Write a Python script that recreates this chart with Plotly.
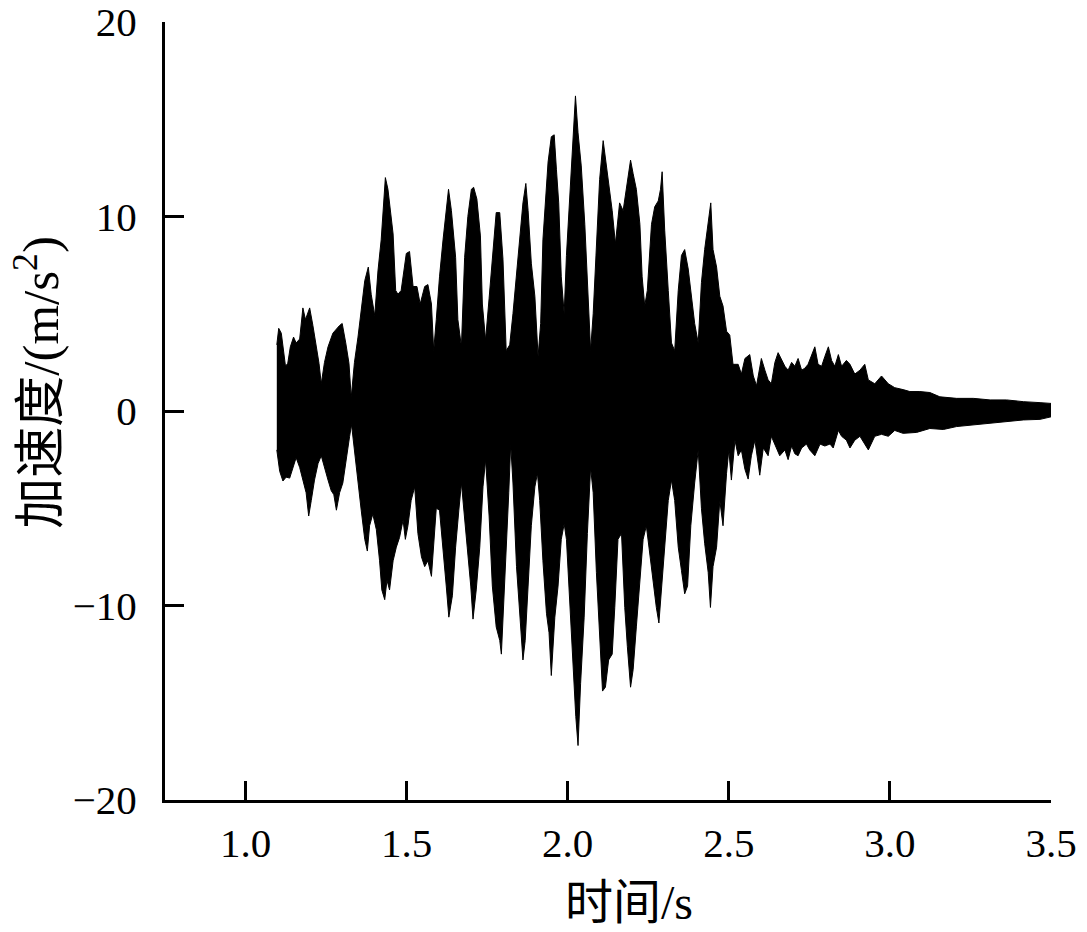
import plotly.graph_objects as go

# Upper envelope of acceleration record (time s, m/s^2)
t_upper = [1.097, 1.103, 1.111, 1.118, 1.124, 1.131, 1.139, 1.149, 1.157, 1.168, 1.178, 1.186, 1.199, 1.209,
           1.219, 1.228, 1.235, 1.245, 1.256, 1.271, 1.292, 1.300, 1.311, 1.321, 1.328, 1.338, 1.349, 1.362,
           1.370, 1.381, 1.390, 1.401, 1.411, 1.421, 1.434, 1.442, 1.449, 1.458, 1.466, 1.473, 1.483, 1.499,
           1.509, 1.520, 1.532, 1.542, 1.556, 1.566, 1.577, 1.584, 1.592, 1.602, 1.613, 1.620, 1.630, 1.639,
           1.652, 1.659, 1.670, 1.680, 1.690, 1.701, 1.708, 1.718, 1.729, 1.735, 1.745, 1.756, 1.768, 1.778,
           1.789, 1.799, 1.809, 1.820, 1.830, 1.841, 1.851, 1.861, 1.870, 1.877, 1.887, 1.898, 1.908, 1.916,
           1.923, 1.934, 1.939, 1.949, 1.958, 1.965, 1.972, 1.980, 1.989, 1.996, 2.006, 2.017, 2.024, 2.032,
           2.042, 2.053, 2.063, 2.071, 2.079, 2.089, 2.099, 2.110, 2.118, 2.127, 2.138, 2.148, 2.161, 2.172,
           2.182, 2.195, 2.203, 2.213, 2.224, 2.231, 2.239, 2.247, 2.260, 2.270, 2.281, 2.288, 2.293, 2.301,
           2.312, 2.322, 2.332, 2.343, 2.353, 2.363, 2.374, 2.384, 2.394, 2.405, 2.415, 2.425, 2.436, 2.444,
           2.451, 2.462, 2.472, 2.482, 2.493, 2.503, 2.513, 2.529, 2.539, 2.550, 2.565, 2.576, 2.586, 2.601,
           2.612, 2.622, 2.632, 2.643, 2.653, 2.664, 2.674, 2.684, 2.695, 2.705, 2.715, 2.726, 2.736, 2.746,
           2.757, 2.767, 2.777, 2.788, 2.798, 2.809, 2.819, 2.829, 2.840, 2.850, 2.865, 2.876, 2.891, 2.907,
           2.922, 2.933, 2.953, 2.974, 2.995, 3.015, 3.041, 3.062, 3.093, 3.124, 3.155, 3.207, 3.259, 3.311,
           3.362, 3.414, 3.466, 3.500]
a_upper = [3.4, 4.25, 4.0, 3.2, 2.3, 2.45, 3.3, 3.8, 3.5, 3.7, 5.3, 4.7, 5.3, 4.4,
           3.3, 2.45, 1.4, 2.5, 3.3, 4.0, 4.4, 4.5, 3.5, 2.45, 0.7, 2.5, 3.8, 5.5,
           6.7, 7.4, 6.0, 4.9, 7.2, 8.8, 12.0, 11.4, 10.5, 9.1, 6.2, 6.0, 6.2, 8.1,
           8.2, 6.4, 6.4, 5.5, 6.4, 6.5, 5.5, 3.1, 4.7, 6.9, 8.8, 10.0, 11.4, 10.3,
           7.9, 4.7, 3.3, 7.9, 10.0, 11.4, 11.5, 10.9, 9.0, 5.5, 3.65, 5.8, 8.3, 10.2,
           10.2, 7.8, 3.1, 3.4, 5.0, 6.9, 8.8, 10.7, 11.7, 10.3, 7.6, 5.9, 2.8, 4.5,
           8.8, 12.0, 12.8, 14.1, 14.2, 12.4, 10.7, 6.9, 5.0, 8.0, 11.0, 14.4, 16.2, 14.3,
           12.6, 9.6, 6.2, 3.1, 5.0, 8.8, 11.9, 13.9, 12.9, 11.5, 10.3, 8.6, 10.7, 10.3,
           11.5, 12.9, 12.2, 11.4, 9.6, 6.9, 5.4, 6.2, 9.6, 10.5, 10.8, 11.4, 12.3, 9.3,
           6.2, 3.5, 3.1, 6.2, 8.0, 8.3, 7.3, 5.9, 4.5, 3.5, 6.6, 8.3, 9.8, 10.7,
           8.3, 7.4, 5.9, 5.4, 4.1, 3.9, 2.4, 2.4, 1.9, 2.7, 2.9, 1.8, 1.3, 2.7,
           2.1, 1.6, 1.4, 2.5, 3.0, 2.6, 2.3, 2.1, 2.5, 2.3, 2.7, 2.1, 2.2, 2.4,
           2.9, 3.3, 2.4, 2.3, 2.8, 3.3, 2.6, 2.3, 2.9, 2.3, 2.6, 2.4, 1.9, 2.1,
           2.4, 1.6, 1.4, 1.8, 1.4, 1.2, 1.1, 1.0, 1.0, 0.95, 0.73, 0.65, 0.65, 0.57,
           0.57, 0.48, 0.43, 0.39]

# Lower envelope
t_lower = [1.097, 1.106, 1.116, 1.126, 1.137, 1.147, 1.157, 1.168, 1.178, 1.188, 1.196, 1.204, 1.214, 1.225,
           1.235, 1.245, 1.256, 1.266, 1.274, 1.282, 1.292, 1.302, 1.313, 1.323, 1.329, 1.338, 1.349, 1.359,
           1.370, 1.378, 1.385, 1.395, 1.406, 1.416, 1.423, 1.432, 1.439, 1.447, 1.458, 1.468, 1.478, 1.489,
           1.496, 1.504, 1.514, 1.525, 1.535, 1.546, 1.556, 1.566, 1.577, 1.584, 1.592, 1.602, 1.613, 1.623,
           1.631, 1.642, 1.652, 1.662, 1.670, 1.678, 1.688, 1.699, 1.706, 1.716, 1.727, 1.737, 1.745, 1.756,
           1.766, 1.778, 1.789, 1.794, 1.804, 1.809, 1.817, 1.823, 1.830, 1.841, 1.851, 1.861, 1.868, 1.877,
           1.887, 1.898, 1.906, 1.913, 1.923, 1.934, 1.942, 1.949, 1.960, 1.970, 1.980, 1.989, 1.996, 2.006,
           2.017, 2.025, 2.032, 2.040, 2.051, 2.061, 2.071, 2.079, 2.089, 2.099, 2.108, 2.117, 2.127, 2.138,
           2.146, 2.156, 2.167, 2.177, 2.185, 2.195, 2.203, 2.213, 2.224, 2.234, 2.244, 2.255, 2.265, 2.275,
           2.283, 2.291, 2.301, 2.312, 2.322, 2.332, 2.343, 2.353, 2.363, 2.372, 2.382, 2.394, 2.405, 2.415,
           2.425, 2.436, 2.443, 2.451, 2.462, 2.472, 2.482, 2.493, 2.500, 2.508, 2.519, 2.529, 2.539, 2.550,
           2.560, 2.570, 2.581, 2.596, 2.607, 2.622, 2.632, 2.648, 2.658, 2.674, 2.684, 2.695, 2.705, 2.715,
           2.726, 2.741, 2.751, 2.767, 2.783, 2.798, 2.814, 2.824, 2.840, 2.850, 2.865, 2.876, 2.891, 2.907,
           2.922, 2.933, 2.953, 2.974, 2.995, 3.015, 3.041, 3.083, 3.124, 3.166, 3.207, 3.259, 3.311, 3.362,
           3.414, 3.466, 3.500]
a_lower = [-2.0, -3.1, -3.6, -3.4, -3.45, -2.9, -2.4, -2.9, -3.55, -4.2, -5.4, -4.6, -3.55, -2.7,
           -2.3, -2.9, -3.55, -4.1, -4.3, -5.1, -4.2, -3.7, -2.5, -1.3, -0.7, -2.0, -3.7, -5.1,
           -6.6, -7.2, -5.9, -5.3, -6.1, -7.7, -9.2, -9.7, -8.7, -9.2, -7.7, -7.0, -6.5, -5.6,
           -6.6, -5.9, -4.6, -3.9, -6.3, -7.5, -8.0, -7.7, -8.5, -7.0, -5.0, -5.1, -7.1, -9.0,
           -10.6, -9.5, -7.0, -5.1, -3.7, -5.3, -7.0, -9.0, -10.7, -9.2, -7.0, -3.9, -2.5, -5.4,
           -9.0, -11.1, -11.8, -12.5, -9.7, -7.1, -4.2, -1.7, -3.7, -8.0, -10.6, -12.8, -11.8, -9.0,
           -5.9, -3.9, -3.2, -4.6, -7.7, -10.4, -11.4, -13.6, -10.6, -9.0, -6.6, -5.8, -6.6, -9.7,
           -13.1, -15.7, -17.2, -14.0, -10.6, -6.3, -2.9, -4.2, -8.3, -11.8, -14.4, -14.2, -12.8, -12.5,
           -10.1, -6.6, -6.3, -10.1, -12.1, -14.2, -13.3, -11.1, -9.0, -6.6, -5.9, -7.3, -8.7, -10.1,
           -10.9, -9.0, -7.0, -4.6, -3.55, -4.6, -7.0, -8.2, -9.4, -9.0, -5.9, -3.7, -2.0, -5.0,
           -6.8, -8.3, -10.1, -8.0, -7.0, -4.6, -5.9, -3.2, -2.0, -3.55, -1.5, -2.3, -2.0, -3.0,
           -3.5, -2.3, -1.5, -3.3, -1.9, -2.3, -1.3, -1.9, -2.3, -2.0, -2.5, -1.8, -2.2, -2.3,
           -1.9, -1.7, -2.0, -2.3, -1.7, -1.8, -1.7, -1.9, -1.0, -1.3, -1.5, -1.9, -1.5, -1.3,
           -1.7, -2.0, -1.3, -1.2, -1.3, -1.0, -1.15, -1.1, -0.9, -0.95, -0.8, -0.7, -0.63, -0.55,
           -0.46, -0.43, -0.3]

x_ticks = [1.0, 1.5, 2.0, 2.5, 3.0, 3.5]
x_ticklabels = ["1.0", "1.5", "2.0", "2.5", "3.0", "3.5"]
y_ticks = [-20, -10, 0, 10, 20]

SERIF = "Liberation Serif"
CJK = "Noto Sans CJK SC"

def latin(s):
    return "<span style='font-family:%s'>%s</span>" % (SERIF, s)

x_title = "时间" + latin("/s")
y_title = "加速度" + latin("/(m/s<sup>2</sup>)")

fig = go.Figure()
fig.add_trace(go.Scatter(
    x=t_upper + t_lower[::-1],
    y=a_upper + a_lower[::-1],
    mode="lines",
    fill="toself",
    fillcolor="black",
    line=dict(color="black", width=1),
    hoverinfo="skip",
    showlegend=False,
))

axis_common = dict(
    showline=True, linecolor="black", linewidth=3, mirror=False,
    ticks="inside", ticklen=19, tickwidth=2.5, tickcolor="black",
    showgrid=False, zeroline=False, ticklabeloverflow="allow",
    tickfont=dict(family=SERIF, size=41, color="black"),
)

fig.update_xaxes(range=[0.75, 3.5], tickvals=x_ticks, ticktext=x_ticklabels,
                 ticklabelstandoff=5, **axis_common)
fig.update_yaxes(range=[-20, 20], tickvals=y_ticks,
                 ticklabelstandoff=17, **axis_common)

fig.add_annotation(text=x_title, xref="paper", yref="paper", x=0.524, y=-0.126,
                   xanchor="center", yanchor="middle", showarrow=False,
                   font=dict(family=CJK, size=48, color="black"))
fig.add_annotation(text=y_title, xref="paper", yref="paper", x=-0.145, y=0.537,
                   xanchor="center", yanchor="middle", showarrow=False, textangle=-90,
                   font=dict(family=CJK, size=51, color="black"))

fig.update_layout(
    width=1087, height=932,
    margin=dict(l=165, r=36, t=22, b=132, autoexpand=False),
    plot_bgcolor="white", paper_bgcolor="white",
)

fig.write_html("out.html", config={"displayModeBar": False},
               post_script="document.body.style.margin='0';document.body.style.overflow='hidden';")
